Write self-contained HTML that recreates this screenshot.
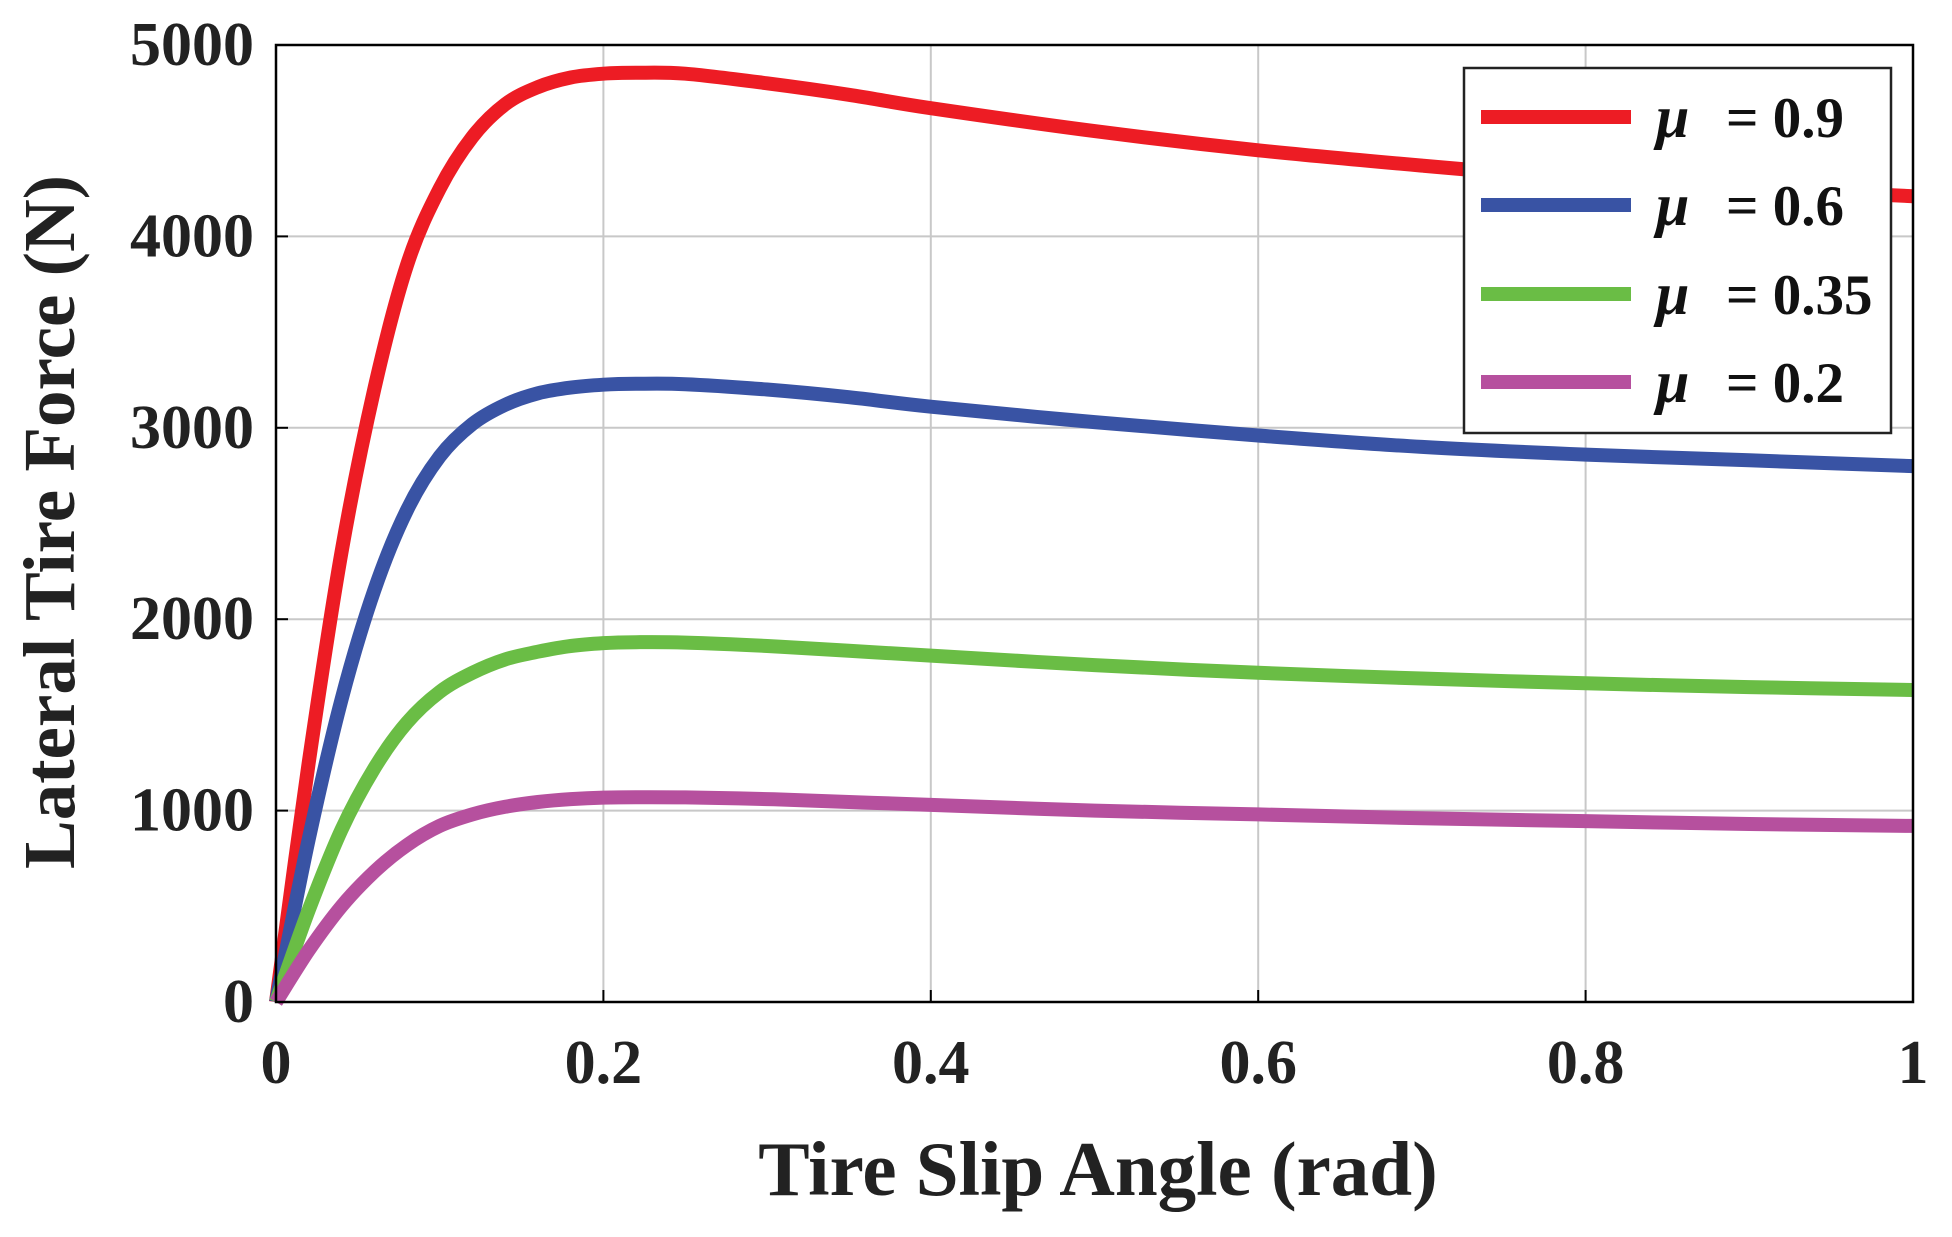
<!DOCTYPE html>
<html><head><meta charset="utf-8"><style>
html,body{margin:0;padding:0;background:#fff;}
svg{display:block;font-family:"Liberation Serif",serif;font-weight:bold;}
</style></head><body>
<svg id="chart" width="1952" height="1237" viewBox="0 0 1952 1237" xmlns="http://www.w3.org/2000/svg">
<g id="grid"></g>
<g id="series"></g>
<rect x="276" y="45" width="1637" height="957" fill="none" stroke="#000" stroke-width="2.5"/>
<g id="ticks" font-size="62" fill="#222"></g>
<text x="1098" y="1195" font-size="77" text-anchor="middle" fill="#222">Tire Slip Angle (rad)</text>
<text transform="translate(74,522) rotate(-90)" font-size="73" text-anchor="middle" fill="#222">Lateral Tire Force (N)</text>
<g id="legend">
<rect x="1464" y="68" width="427" height="365" fill="#fff" stroke="#222" stroke-width="2.5"/>
</g>
</svg>
<script>
const xs=[0,0.02,0.04,0.06,0.08,0.1,0.12,0.14,0.16,0.18,0.2,0.22,0.25,0.3,0.35,0.4,0.5,0.6,0.7,0.8,0.9,1.0];
const red=[0,1250,2350,3200,3850,4250,4520,4690,4780,4830,4850,4855,4850,4800,4740,4670,4550,4450,4370,4300,4250,4210];
const blue=[0,850,1580,2150,2570,2850,3020,3120,3180,3210,3225,3230,3228,3200,3160,3110,3030,2960,2900,2860,2830,2800];
const green=[0,480,900,1220,1460,1620,1720,1790,1830,1860,1875,1880,1878,1860,1835,1810,1760,1720,1690,1665,1645,1630];
const purple=[0,270,500,680,820,920,980,1020,1045,1060,1068,1070,1069,1060,1045,1030,1000,980,960,945,930,920];
const xTicks=[0,0.2,0.4,0.6,0.8,1];
const xTickLabels=["0","0.2","0.4","0.6","0.8","1"];
const yTicks=[0,1000,2000,3000,4000,5000];
const yTickLabels=["0","1000","2000","3000","4000","5000"];
const legendLabels=["= 0.9","= 0.6","= 0.35","= 0.2"];
const NS="http://www.w3.org/2000/svg";
const L=276,R=1913,T=45,B=1002;
const sx=v=>L+(v-0)/(1-0)*(R-L);
const sy=v=>B-(v/5000)*(B-T);
function mk(tag,parent){const e=document.createElementNS(NS,tag);parent.appendChild(e);return e;}
const grid=document.getElementById('grid'),ticks=document.getElementById('ticks');
xTicks.forEach((t,i)=>{
  if(t>0&&t<1){const g=mk('line',grid);
  
  
  g.setAttribute('x1',sx(t));g.setAttribute('x2',sx(t));g.setAttribute('y1',T);g.setAttribute('y2',B);g.setAttribute('stroke','#c8c8c8');g.setAttribute('stroke-width','2');}
  const tk=mk('line',grid);
  
  
  tk.setAttribute('x1',sx(t));tk.setAttribute('x2',sx(t));tk.setAttribute('y1',B);tk.setAttribute('y2',B-12);tk.setAttribute('stroke','#000');tk.setAttribute('stroke-width','2');
  const tx=mk('text',ticks);
  
  
  tx.setAttribute('x',sx(t));tx.setAttribute('y',1083);tx.setAttribute('text-anchor','middle');tx.textContent=xTickLabels[i];
});
yTicks.forEach((t,i)=>{
  if(t>0&&t<5000){const g=mk('line',grid);
  
  
  g.setAttribute('x1',L);g.setAttribute('x2',R);g.setAttribute('y1',sy(t));g.setAttribute('y2',sy(t));g.setAttribute('stroke','#c8c8c8');g.setAttribute('stroke-width','2');}
  const tk=mk('line',grid);
  
  
  tk.setAttribute('x1',L);tk.setAttribute('x2',L+12);tk.setAttribute('y1',sy(t));tk.setAttribute('y2',sy(t));tk.setAttribute('stroke','#000');tk.setAttribute('stroke-width','2');
  const tx=mk('text',ticks);
  
  
  tx.setAttribute('x',254);tx.setAttribute('y',sy(t)+20);tx.setAttribute('text-anchor','end');tx.textContent=yTickLabels[i];
});
function smoothPath(vals){
  const P=vals.map((v,i)=>[sx(xs[i]),sy(v)]);
  let d='M'+P[0][0].toFixed(1)+','+P[0][1].toFixed(1);
  for(let i=0;i<P.length-1;i++){
    const p0=P[Math.max(0,i-1)],p1=P[i],p2=P[i+1],p3=P[Math.min(P.length-1,i+2)];
    const c1=[p1[0]+(p2[0]-p0[0])/6,p1[1]+(p2[1]-p0[1])/6];
    const c2=[p2[0]-(p3[0]-p1[0])/6,p2[1]-(p3[1]-p1[1])/6];
    d+='C'+c1[0].toFixed(1)+','+c1[1].toFixed(1)+' '+c2[0].toFixed(1)+','+c2[1].toFixed(1)+' '+p2[0].toFixed(1)+','+p2[1].toFixed(1);
  }
  return d;
}
const series=[[red,'#ed1c24','red'],[blue,'#3953a4','blue'],[green,'#6abd45','green'],[purple,'#b6509e','purple']];
const sg=document.getElementById('series');
series.forEach(([vals,col,nm])=>{
  const p=mk('path',sg);
  
  
  p.setAttribute('d',smoothPath(vals));
  p.setAttribute('fill','none');p.setAttribute('stroke',col);p.setAttribute('stroke-width','14');p.setAttribute('stroke-linejoin','round');
});
const lg=document.getElementById('legend');
const ly=[117,205,294,382];
series.forEach(([vals,col,nm],i)=>{
  const l=mk('line',lg);
  
  
  l.setAttribute('x1',1481);l.setAttribute('x2',1631);l.setAttribute('y1',ly[i]);l.setAttribute('y2',ly[i]);l.setAttribute('stroke',col);l.setAttribute('stroke-width','14');
  const mu=mk('text',lg);
  
  
  mu.setAttribute('x',1656);mu.setAttribute('y',ly[i]+20);mu.setAttribute('font-size','60');mu.setAttribute('font-style','italic');mu.setAttribute('fill','#111');mu.textContent='μ';
  const t=mk('text',lg);
  
  
  t.setAttribute('x',1726);t.setAttribute('y',ly[i]+20);t.setAttribute('font-size','57');t.setAttribute('fill','#111');t.textContent=legendLabels[i];
});
</script>
</body></html>
